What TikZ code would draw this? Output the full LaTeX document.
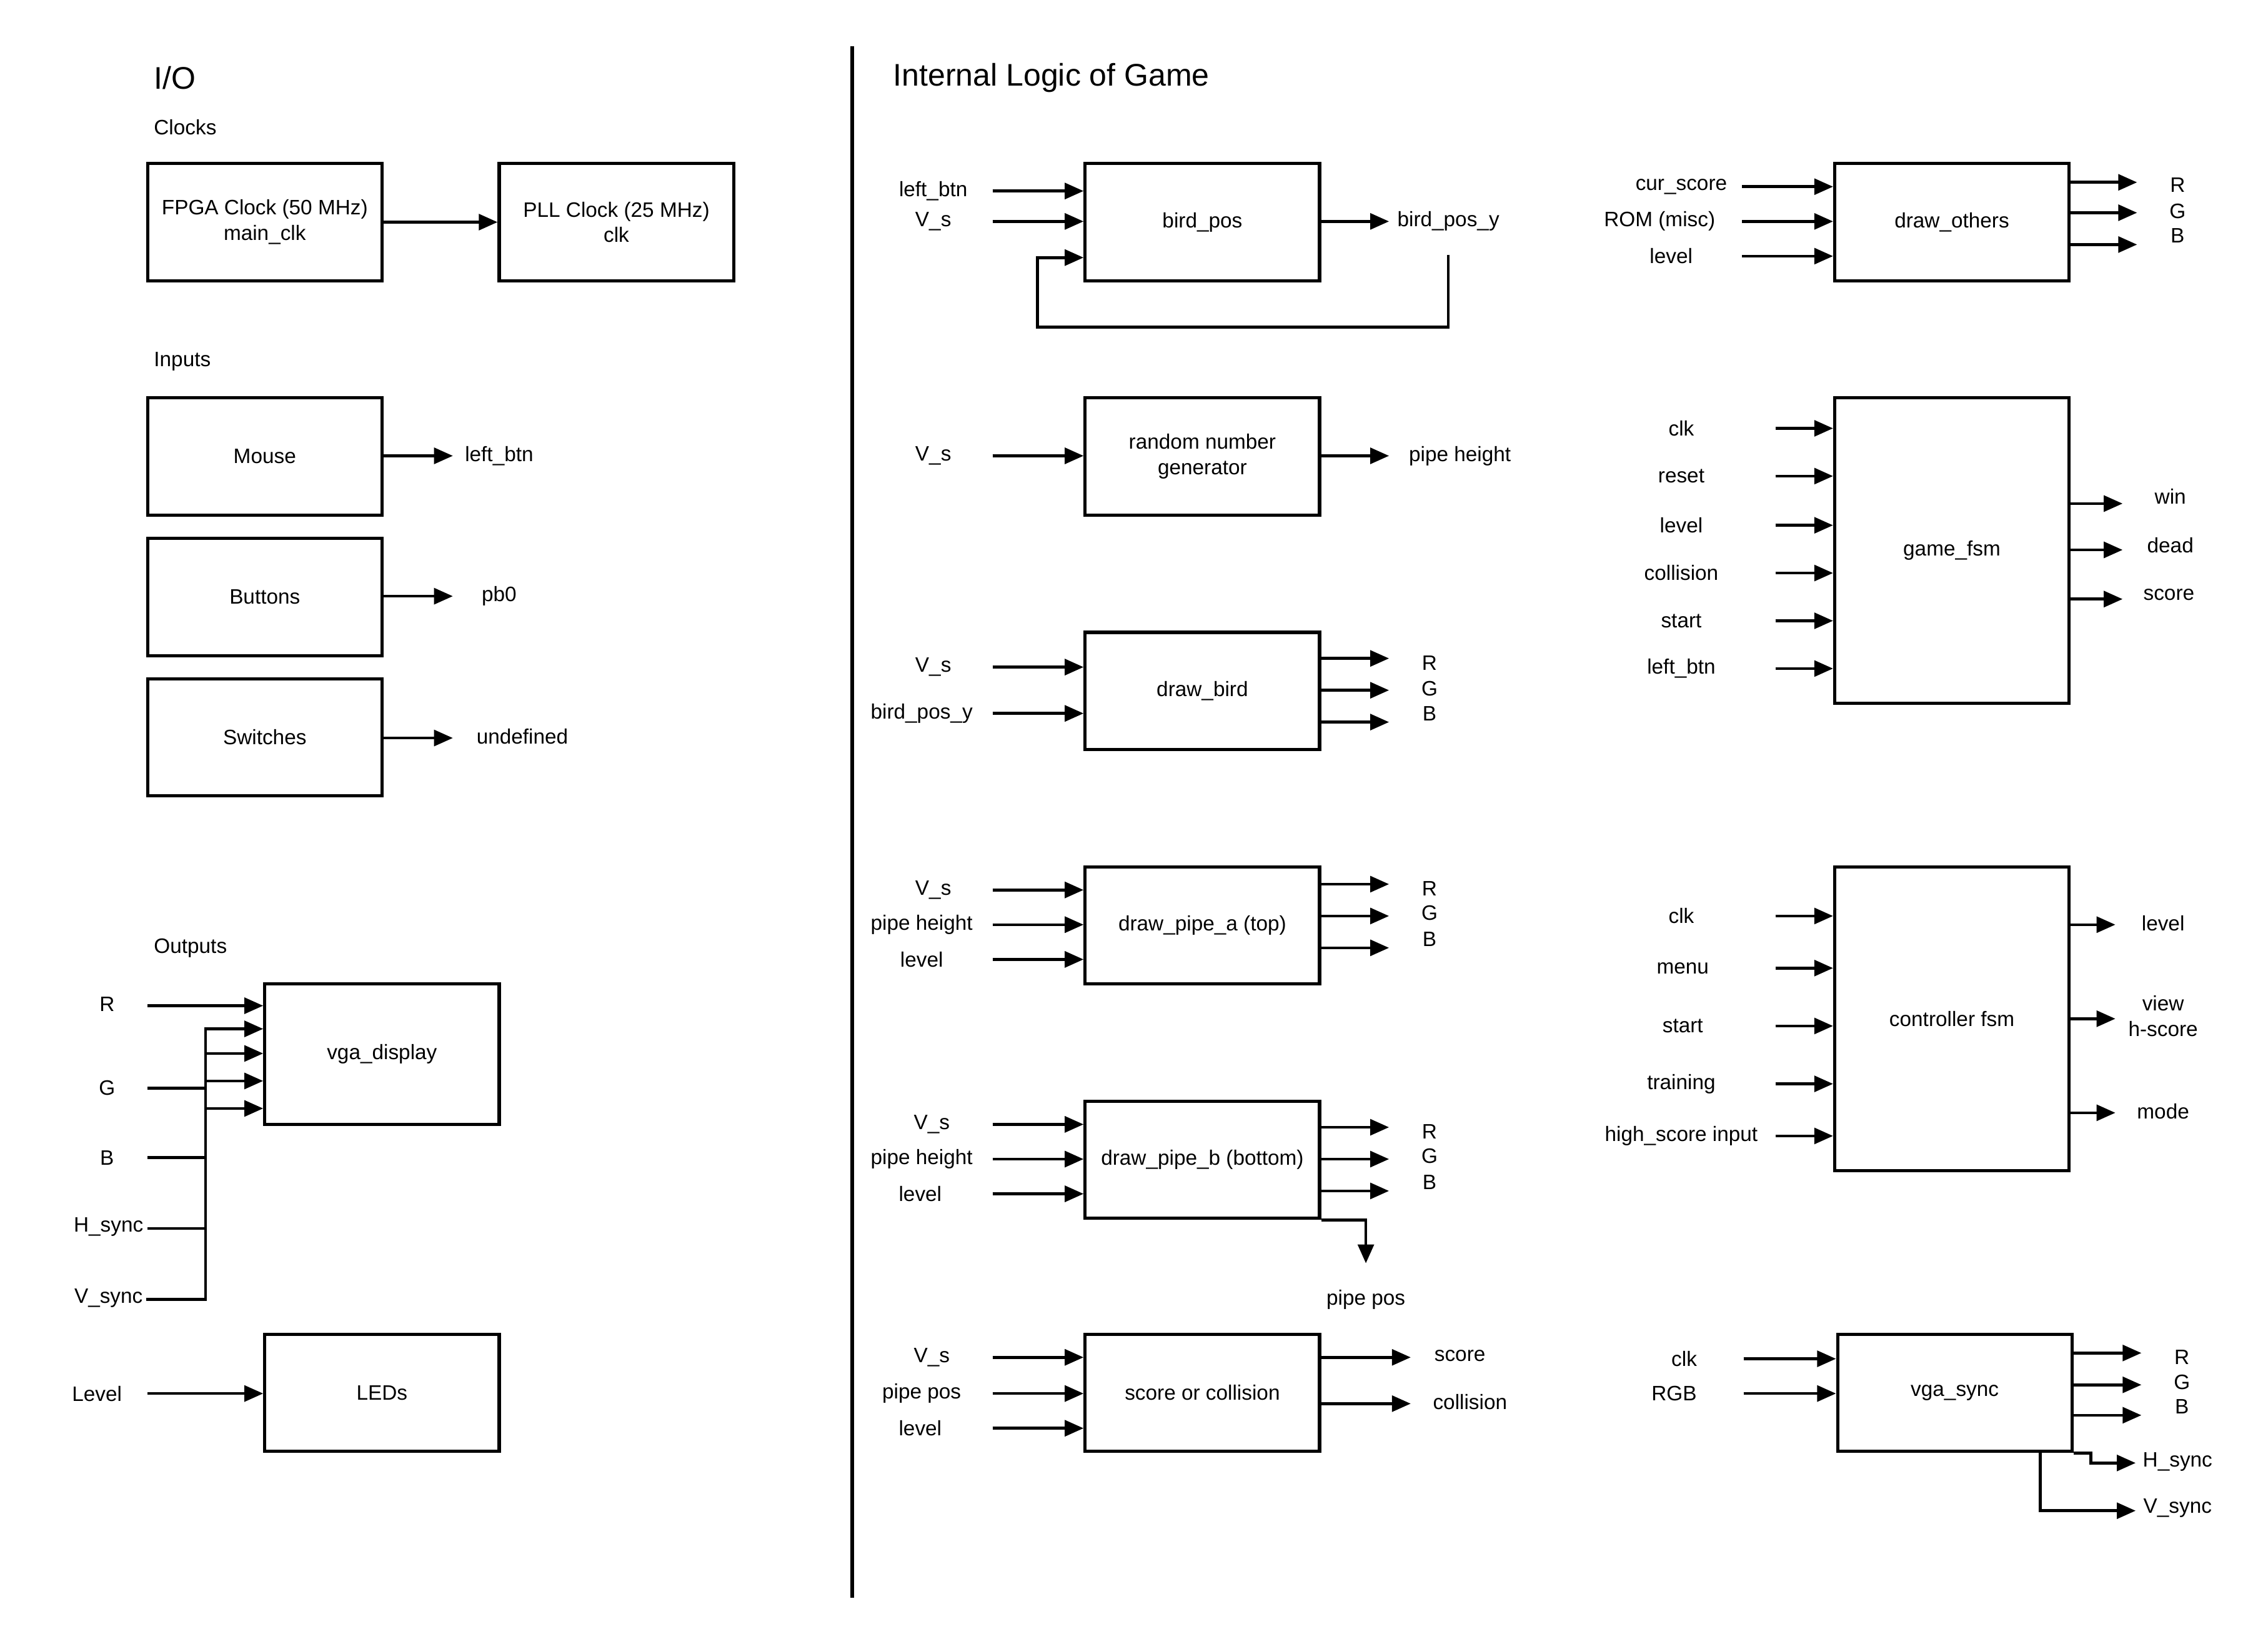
\documentclass[tikz,border=0pt]{standalone}
\usepackage{fontspec}
\setmainfont{Liberation Sans}
\usetikzlibrary{arrows.meta}
\newcommand\fs{\fontsize{7.2}{8.8}\selectfont}
\newcommand\fh{\fontsize{10.8}{13}\selectfont}
% input arrow: name, text, label x, y, start x, box
\newcommand\ina[6]{\node[lbl] (#1) at (#3,#4) {#2};
  \coordinate (#1a) at (#5,#4);
  \draw[arr] (#1a) -- (#1a -| #6.west);}
% output arrow: name, text, label x, label y, arrow y, end x, box
\newcommand\outa[7]{\node[lbl] (#1) at (#3,#4) {#2};
  \coordinate (#1a) at (#6,#5);
  \draw[arr] (#1a -| #7.east) -- (#1a);}
\begin{document}
\begin{tikzpicture}[x=0.5pt,y=-0.5pt,
  box/.style={draw,line width=1.1pt,minimum width=81pt,minimum height=40.5pt,inner sep=0pt,align=center,font=\fs},
  lbl/.style={inner sep=0pt,align=center,font=\fs},
  hdr/.style={inner sep=0pt,anchor=west,font=\fh},
  arr/.style={line width=1pt,-{Triangle[length=6.5pt,width=5.5pt]}},
  ln/.style={line width=1pt}]
\useasboundingbox[fill=white] (0,0) rectangle (1567.5,1136.1);

% ---------------- I/O ----------------
\node[hdr] (io) at (106,54) {I/O};
\node[lbl,anchor=west] (clocks) at (106,88) {Clocks};
\node[box] (fpga) at (183,153.5) {FPGA Clock (50 MHz)\\main\_clk};
\node[box] (pll) at (426,153.5) {PLL Clock (25 MHz)\\clk};
\draw[arr] (fpga) -- (pll);

\node[lbl,anchor=west] (inputs) at (106,250) {Inputs};
\node[box] (mouse) at (183,315.5) {Mouse};
\node[box] (buttons) at (183,412.5) {Buttons};
\node[box] (switches) at (183,509.5) {Switches};
\outa{mlb}{left\_btn}{345}{315}{315}{313}{mouse}
\outa{bpb}{pb0}{345}{412}{412}{313}{buttons}
\outa{sud}{undefined}{361}{509}{510}{313}{switches}

\node[lbl,anchor=west] (outputs) at (106,655) {Outputs};
\node[box,minimum height=48.5pt] (vd) at (264,728.5) {vga\_display};
\node[lbl] (oR) at (74,694) {R};
\coordinate (oRa) at (102,695);
\draw[arr] (oRa) -- (oRa -| vd.west);
\node[lbl] (oG) at (74,752) {G};
\node[lbl] (oB) at (74,800) {B};
\node[lbl] (oH) at (75,848) {H\_sync};
\node[lbl] (oV) at (75,897) {V\_sync};
\coordinate (busT) at (142,711);
\coordinate (busB) at (142,898);
\coordinate (oGa) at (102,752);
\coordinate (oBa) at (102,800);
\coordinate (oHa) at (102,849);
\coordinate (oVa) at (102,898);
\draw[ln] (oGa) -- (oGa -| busT);
\draw[ln] (oBa) -- (oBa -| busT);
\draw[ln] (oHa) -- (oHa -| busT);
\draw[ln,line cap=rect] (oVa) -- (busB) -- (busT);
\foreach \yy in {711,728,747,766}{
  \coordinate (bt) at (142,\yy);
  \draw[arr] (bt) -- (bt -| vd.west);
}
\node[box] (leds) at (264,962.5) {LEDs};
\ina{lvl}{Level}{67}{963}{102}{leds}

% divider
\coordinate (divT) at (589,32);
\coordinate (divB) at (589,1104);
\draw[line width=1.4pt] (divT) -- (divB);

% ---------------- Internal logic ----------------
\node[hdr] (ilg) at (617,54) {Internal Logic of Game};

% bird_pos
\node[box] (bp) at (831,153.5) {bird\_pos};
\ina{bpl}{left\_btn}{645}{132}{686}{bp}
\ina{bpv}{V\_s}{645}{153}{686}{bp}
\outa{bpy}{bird\_pos\_y}{1001}{153}{153}{960}{bp}
\coordinate (fbt) at (1001,176);
\coordinate (fbb) at (717,226);
\coordinate (fbe) at (717,178);
\draw[arr] (fbt) |- (fbb) |- (fbe -| bp.west);

% random number generator
\node[box] (rng) at (831,315.5) {random number\\generator};
\ina{rngv}{V\_s}{645}{315}{686}{rng}
\outa{ph}{pipe height}{1009}{315}{315}{960}{rng}

% draw_bird
\node[box] (db) at (831,477.5) {draw\_bird};
\ina{dbv}{V\_s}{645}{461}{686}{db}
\ina{dby}{bird\_pos\_y}{637}{493}{686}{db}
\outa{dbR}{R}{988}{458}{455}{960}{db}
\outa{dbG}{G}{988}{476}{477}{960}{db}
\outa{dbB}{B}{988}{493}{499}{960}{db}

% draw_pipe_a
\node[box] (dpa) at (831,639.5) {draw\_pipe\_a (top)};
\ina{dpav}{V\_s}{645}{615}{686}{dpa}
\ina{dpah}{pipe height}{637}{639}{686}{dpa}
\ina{dpal}{level}{637}{663}{686}{dpa}
\outa{dpaR}{R}{988}{614}{611}{960}{dpa}
\outa{dpaG}{G}{988}{631}{633}{960}{dpa}
\outa{dpaB}{B}{988}{649}{655}{960}{dpa}

% draw_pipe_b
\node[box] (dpb) at (831,801.5) {draw\_pipe\_b (bottom)};
\ina{dpbv}{V\_s}{644}{777}{686}{dpb}
\ina{dpbh}{pipe height}{637}{801}{686}{dpb}
\ina{dpbl}{level}{636}{825}{686}{dpb}
\outa{dpbR}{R}{988}{782}{779}{960}{dpb}
\outa{dpbG}{G}{988}{799}{801}{960}{dpb}
\outa{dpbB}{B}{988}{817}{823}{960}{dpb}
\node[lbl] (pp) at (944,898) {pipe pos};
\coordinate (ppe) at (944,873);
\draw[arr] (dpb.south east) -| (ppe);

% score or collision
\node[box] (soc) at (831,962.5) {score or collision};
\ina{socv}{V\_s}{644}{938}{686}{soc}
\ina{socp}{pipe pos}{637}{963}{686}{soc}
\ina{socl}{level}{636}{987}{686}{soc}
\outa{socs}{score}{1009}{937}{938}{975}{soc}
\outa{socc}{collision}{1016}{969}{970}{975}{soc}

% draw_others
\node[box] (do) at (1349,153.5) {draw\_others};
\ina{docs}{cur\_score}{1162}{129}{1204}{do}
\ina{dorm}{ROM (misc)}{1147}{153}{1204}{do}
\ina{dolv}{level}{1155}{177}{1204}{do}
\outa{doR}{R}{1505}{128}{126}{1477}{do}
\outa{doG}{G}{1505}{146}{147}{1477}{do}
\outa{doB}{B}{1505}{163}{169}{1477}{do}

% game_fsm
\node[box,minimum height=105.5pt] (gf) at (1349,380.5) {game\_fsm};
\ina{gfc}{clk}{1162}{296}{1227}{gf}
\ina{gfr}{reset}{1162}{329}{1227}{gf}
\ina{gfl}{level}{1162}{363}{1227}{gf}
\ina{gfo}{collision}{1162}{396}{1227}{gf}
\ina{gfs}{start}{1162}{429}{1227}{gf}
\ina{gfb}{left\_btn}{1162}{462}{1227}{gf}
\outa{gfw}{win}{1500}{343}{348}{1467}{gf}
\outa{gfd}{dead}{1500}{377}{380}{1467}{gf}
\outa{gfsc}{score}{1499}{411}{414}{1467}{gf}

% controller fsm
\node[box,minimum height=105pt] (cf) at (1349,704) {controller fsm};
\ina{cfc}{clk}{1162}{633}{1227}{cf}
\ina{cfm}{menu}{1163}{669}{1227}{cf}
\ina{cfs}{start}{1163}{709}{1227}{cf}
\ina{cft}{training}{1162}{749}{1227}{cf}
\ina{cfh}{high\_score input}{1162}{785}{1227}{cf}
\outa{cfl}{level}{1495}{638}{639}{1462}{cf}
\outa{cfv}{view\\h-score}{1495}{702}{704}{1462}{cf}
\outa{cfmo}{mode}{1495}{768}{769}{1462}{cf}

% vga_sync
\node[box] (vs) at (1351,962.5) {vga\_sync};
\ina{vsc}{clk}{1164}{939}{1205}{vs}
\ina{vsr}{RGB}{1157}{963}{1205}{vs}
\outa{vsR}{R}{1508}{938}{935}{1480}{vs}
\outa{vsG}{G}{1508}{955}{957}{1480}{vs}
\outa{vsB}{B}{1508}{972}{978}{1480}{vs}
\node[lbl] (vsh) at (1505,1010) {H\_sync};
\node[lbl] (vsv) at (1505,1042) {V\_sync};
\coordinate (hk2) at (1445,1011);
\coordinate (hke) at (1476,1011);
\draw[arr] (vs.south east) -| (hk2) -- (hke);
\coordinate (vk2) at (1410,1044);
\coordinate (vke) at (1476,1044);
\draw[arr] (vk2 |- vs.south) -- (vk2) -- (vke);
\end{tikzpicture}
\end{document}
